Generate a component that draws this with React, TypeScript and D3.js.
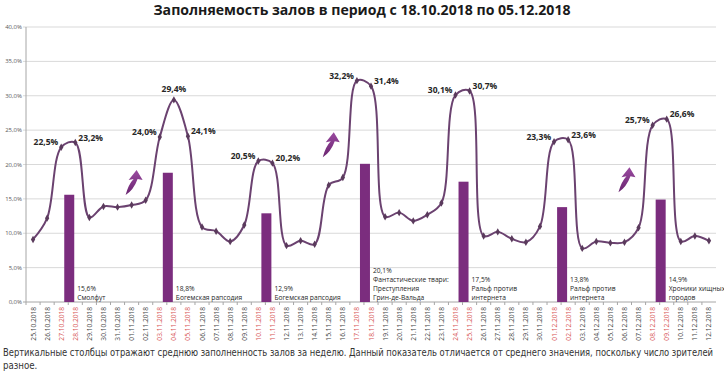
import * as d3 from "d3";

const W = 724, H = 372;
const margin = { top: 27, right: 8, bottom: 70, left: 26 };
const plotW = W - margin.left - margin.right;
const plotH = H - margin.top - margin.bottom;

const dates = [
  "25.10.2018", "26.10.2018", "27.10.2018", "28.10.2018", "29.10.2018", "30.10.2018", "31.10.2018",
  "01.11.2018", "02.11.2018", "03.11.2018", "04.11.2018", "05.11.2018", "06.11.2018", "07.11.2018",
  "08.11.2018", "09.11.2018", "10.11.2018", "11.11.2018", "12.11.2018", "13.11.2018", "14.11.2018",
  "15.11.2018", "16.11.2018", "17.11.2018", "18.11.2018", "19.11.2018", "20.11.2018", "21.11.2018",
  "22.11.2018", "23.11.2018", "24.11.2018", "25.11.2018", "26.11.2018", "27.11.2018", "28.11.2018",
  "29.11.2018", "30.11.2018", "01.12.2018", "02.12.2018", "03.12.2018", "04.12.2018", "05.12.2018",
  "06.12.2018", "07.12.2018", "08.12.2018", "09.12.2018", "10.12.2018", "11.12.2018", "12.12.2018",
];

const occupancy = [
  9.1, 12.2, 22.5, 23.2, 12.3, 13.9, 13.8,
  14.1, 14.8, 24.0, 29.4, 24.1, 10.9, 10.3,
  8.8, 11.2, 20.5, 20.2, 8.2, 8.9, 8.4,
  17.0, 18.1, 32.2, 31.4, 12.4, 13.0, 11.8,
  12.7, 14.4, 30.1, 30.7, 9.6, 10.2, 9.2,
  8.7, 11.0, 23.3, 23.6, 7.8, 8.8, 8.6,
  8.7, 10.8, 25.7, 26.6, 8.8, 9.6, 8.9,
];

const redDates = [
  "27.10.2018", "28.10.2018", "03.11.2018", "04.11.2018", "05.11.2018", "10.11.2018", "11.11.2018",
  "17.11.2018", "18.11.2018", "24.11.2018", "25.11.2018", "01.12.2018", "02.12.2018", "08.12.2018", "09.12.2018",
];

// weekly averages (bars sit on the weekend boundary)
const weekDates = ["28.10.2018", "04.11.2018", "11.11.2018", "18.11.2018", "25.11.2018", "02.12.2018", "09.12.2018"];
const weekValues = [15.6, 18.8, 12.9, 20.1, 17.5, 13.8, 14.9];
const weekFilms = [
  ["Смолфут"],
  ["Богемская рапсодия"],
  ["Богемская рапсодия"],
  ["Фантастические твари:", "Преступления", "Грин-де-Вальда"],
  ["Ральф против", "интернета"],
  ["Ральф против", "интернета"],
  ["Хроники хищных", "городов"],
];

const labelDates = [
  "27.10.2018", "28.10.2018", "03.11.2018", "04.11.2018", "05.11.2018", "10.11.2018", "11.11.2018",
  "17.11.2018", "18.11.2018", "24.11.2018", "25.11.2018", "01.12.2018", "02.12.2018", "08.12.2018", "09.12.2018",
];
const labelSides = [
  "left", "right", "left", "top", "right", "left", "right",
  "left", "right", "left", "right", "left", "right", "left", "right",
];

const arrowDates = ["01.11.2018", "15.11.2018", "06.12.2018"];
const arrowValues = [17.3, 22.8, 17.7];

const yTicks = [0, 5, 10, 15, 20, 25, 30, 35, 40];

const noteLines = [
  "Вертикальные столбцы отражают среднюю заполненность залов за неделю. Данный показатель отличается от среднего значения, поскольку число зрителей",
  "разное.",
];

const fmt = (v: number) => v.toFixed(1).replace(".", ",") + "%";

const LINE = "#6b4270";
const BAR = "#7b2d7e";

export default function App() {
  const x = d3.scaleBand<string>().domain(dates).range([margin.left, margin.left + plotW]).padding(0);
  const y = d3.scaleLinear().domain([0, 40]).range([margin.top + plotH, margin.top]);
  const cx = (d: string) => (x(d) as number) + x.bandwidth() / 2;

  const pts = dates.map((d, i) => [cx(d), y(occupancy[i])] as [number, number]);
  const linePath = d3.line().curve(d3.curveCatmullRom.alpha(0.5))(pts) || "";
  const marker = d3.symbol().type(d3.symbolDiamond).size(16)() || "";

  const arrowPath = "M -8 12 Q -5 1 0 -4 L -5 -3 L 3 -13 L 9 -3 L 4 -4 Q 0 7 -8 12 Z";
  const barW = 10;
  const y0 = y(0);

  return (
    <svg width={W} height={H} style={{ position: "absolute", left: 0, top: 0, background: "#fff" }}
      fontFamily="'Open Sans', 'DejaVu Sans', sans-serif">
      <defs>
        <linearGradient id="arrowGrad" x1="0" y1="1" x2="0" y2="0">
          <stop offset="0%" stopColor="#6a2570" />
          <stop offset="100%" stopColor="#9a4aa0" />
        </linearGradient>
      </defs>

      <text x={W / 2} y={15} textAnchor="middle" fontSize={14} fontWeight="bold" fill="#1a1a1a"
        textLength={417} lengthAdjust="spacingAndGlyphs">
        Заполняемость залов в период с 18.10.2018 по 05.12.2018
      </text>

      {yTicks.map((t) => (
        <g key={t}>
          <line x1={margin.left - 3} x2={margin.left + plotW} y1={y(t)} y2={y(t)}
            stroke={t === 0 ? "#a6a6a6" : "#d9d9d9"} strokeWidth={1} />
          <text x={margin.left - 4} y={y(t) + 2} textAnchor="end" fontSize={6} fill="#595959">
            {fmt(t)}
          </text>
        </g>
      ))}
      <line x1={margin.left} x2={margin.left} y1={margin.top} y2={y0} stroke="#a6a6a6" />

      {dates.map((d) => (
        <line key={"tk" + d} x1={x(d) as number} x2={x(d) as number} y1={y0} y2={y0 + 3} stroke="#a6a6a6" />
      ))}

      {weekDates.map((d, i) => {
        const bx = (x(d) as number) + 1 - barW / 2;
        const lines = [fmt(weekValues[i]), ...weekFilms[i]];
        const n = lines.length;
        return (
          <g key={"bar" + d}>
            <rect x={bx} y={y(weekValues[i])} width={barW} height={y0 - y(weekValues[i])} fill={BAR} />
            {lines.map((s, k) => (
              <text key={k} x={bx + barW + 3} y={y0 - 2 - (n - 1 - k) * 9} fontSize={6.7} fill="#262626">
                {s}
              </text>
            ))}
          </g>
        );
      })}

      <path d={linePath} fill="none" stroke={LINE} strokeWidth={2} />
      {pts.map((p, i) => (
        <path key={"m" + i} d={marker} transform={`translate(${p[0]},${p[1]})`} fill="#5a3a5c" />
      ))}

      {labelDates.map((d, i) => {
        const v = occupancy[dates.indexOf(d)];
        const px = cx(d), py = y(v);
        const side = labelSides[i];
        const tx = side === "left" ? px - 3 : side === "right" ? px + 3 : px;
        const ty = side === "top" ? py - 8 : py - 2;
        const anchor = side === "left" ? "end" : side === "right" ? "start" : "middle";
        return (
          <text key={"pl" + d} x={tx} y={ty} textAnchor={anchor} fontSize={8.5} fontWeight="bold" fill="#262626">
            {fmt(v)}
          </text>
        );
      })}

      {arrowDates.map((d, i) => (
        <path key={"ar" + d} d={arrowPath} transform={`translate(${cx(d) + 2},${y(arrowValues[i])})`}
          fill="url(#arrowGrad)" />
      ))}

      {dates.map((d) => (
        <text key={"xl" + d} transform={`translate(${cx(d) + 2.5},${y0 + 5}) rotate(-90)`} textAnchor="end"
          fontSize={6.6} fill={redDates.includes(d) ? "#d65050" : "#404040"}>
          {d}
        </text>
      ))}

      <text x={3} y={356} fontSize={9.6} fill="#333" textLength={710} lengthAdjust="spacingAndGlyphs"
        fontFamily="'Liberation Sans Narrow', 'DejaVu Sans Condensed', 'Open Sans', sans-serif">
        {noteLines[0]}
      </text>
      <text x={3} y={369} fontSize={9.6} fill="#333"
        fontFamily="'Liberation Sans Narrow', 'DejaVu Sans Condensed', 'Open Sans', sans-serif">{noteLines[1]}</text>
    </svg>
  );
}
